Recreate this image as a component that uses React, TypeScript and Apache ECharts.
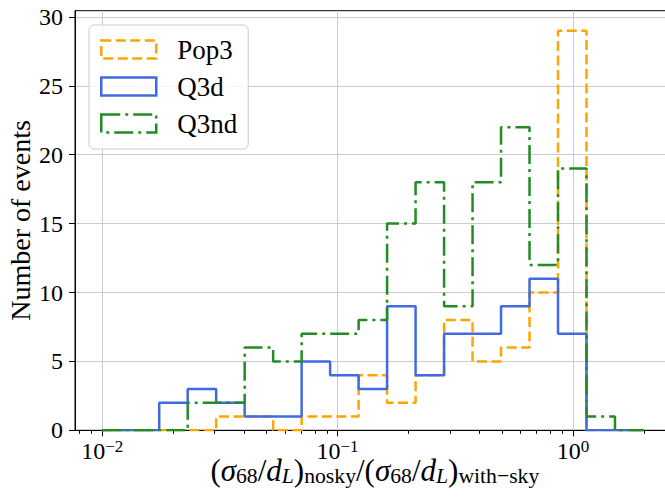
import React, { useEffect, useRef } from 'react';
import * as echarts from 'echarts';

// Logarithmic bin edges (shared by the three histograms)
const BIN_EDGES = [
  0.01, 0.013214, 0.017462, 0.023074, 0.030491, 0.040291, 0.053241, 0.070353,
  0.092966, 0.12285, 0.16233, 0.21451, 0.28346, 0.37457, 0.49496, 0.65405,
  0.86428, 1.1421, 1.5092, 1.9943,
];
// Counts per bin
const POP3 = [0, 0, 0, 0, 1, 1, 0, 1, 1, 4, 2, 4, 8, 5, 6, 10, 29, 0, 0];
const Q3D = [0, 0, 2, 3, 2, 1, 1, 5, 4, 3, 9, 4, 7, 7, 9, 11, 7, 0, 0];
const Q3ND = [0, 0, 0, 2, 2, 6, 5, 7, 7, 8, 15, 18, 9, 18, 22, 12, 19, 1, 0];

const SERIES_NAMES = ['Pop3', 'Q3d', 'Q3nd'];
const Y_TICKS = [0, 5, 10, 15, 20, 25, 30];
const X_MAJOR_TICKS = [0.01, 0.1, 1];
const X_MINOR_TICKS = [
  0.008, 0.009,
  0.02, 0.03, 0.04, 0.05, 0.06, 0.07, 0.08, 0.09,
  0.2, 0.3, 0.4, 0.5, 0.6, 0.7, 0.8, 0.9,
  2,
];
const X_MIN = 0.007661;
const X_MAX = 2.603;
const Y_MAX = 30.45;

const FONT = "'Liberation Serif', 'Times New Roman', serif";
const COLORS = ['#FFA500', '#4169E1', '#228B22'];
const DASHES: (number[] | 'solid')[] = [[10, 4.5], 'solid', [19, 5, 3, 5]];

const lg = (v: number) => Math.log10(v);

function stepPoints(counts: number[]) {
  const pts: number[][] = [[lg(BIN_EDGES[0]), 0]];
  counts.forEach((c, i) => pts.push([lg(BIN_EDGES[i]), c]));
  const last = counts[counts.length - 1];
  pts.push([lg(BIN_EDGES[counts.length]), last]);
  pts.push([lg(BIN_EDGES[counts.length]), 0]);
  return pts;
}

export default function App() {
  const ref = useRef<HTMLDivElement>(null);
  useEffect(() => {
    const chart = echarts.init(ref.current!, null, { renderer: 'svg' });
    const allCounts = [POP3, Q3D, Q3ND];
    const option: any = {
      animation: false,
      backgroundColor: '#ffffff',
      textStyle: { fontFamily: FONT },
      grid: {
        left: 75,
        top: 10.7,
        width: 595.7,
        height: 419.6,
        show: true,
        borderColor: '#000',
        borderWidth: 1,
        backgroundColor: 'transparent',
        containLabel: false,
        outerBoundsMode: 'none',
      },
      legend: {
        orient: 'vertical',
        left: 89,
        top: 25,
        itemWidth: 55,
        itemHeight: 18,
        itemGap: 10,
        padding: [11, 11, 12, 11],
        backgroundColor: 'rgba(255,255,255,0.8)',
        borderColor: '#cccccc',
        borderWidth: 1,
        borderRadius: 5,
        textStyle: { fontFamily: FONT, fontSize: 27, color: '#000', padding: [0, 0, 0, 16] },
        data: SERIES_NAMES.map((n, i) => ({
          name: n,
          icon: 'rect',
          itemStyle: {
            color: 'transparent',
            borderColor: COLORS[i],
            borderWidth: 2.5,
            borderType: DASHES[i],
          },
        })),
      },
      xAxis: [
        {
          type: 'value',
          min: lg(X_MIN),
          max: lg(X_MAX),
          axisLine: { show: true, onZero: false, lineStyle: { color: '#000', width: 1 } },
          axisTick: {
            show: true,
            customValues: X_MAJOR_TICKS.map(lg),
            length: 6,
            lineStyle: { color: '#000', width: 1 },
          },
          axisLabel: {
            customValues: X_MAJOR_TICKS.map(lg),
            margin: 7.5,
            formatter: (v: number) => {
              const e = Math.round(v);
              return `{b|10}{s|${e < 0 ? '\u2212' + -e : e}}`;
            },
            rich: {
              b: { fontFamily: FONT, fontSize: 24, color: '#000', lineHeight: 26 },
              s: { fontFamily: FONT, fontSize: 17, color: '#000', verticalAlign: 'top', lineHeight: 8 },
            },
          },
          splitLine: { show: true, lineStyle: { color: '#cbcbcb', width: 1 } },
          name:
            '{n|(}{i|σ}{s|68}{n|/}{i|d}{si|L}{n|)}{s|nosky}{n|/(}{i|σ}{s|68}{n|/}{i|d}{si|L}{n|)}{s|with\u2212sky}',
          nameLocation: 'middle',
          nameGap: 23,
          nameMoveOverlap: false,
          nameTextStyle: {
            padding: [0, 0, 0, 4],
            rich: {
              n: { fontFamily: FONT, fontSize: 31, color: '#000', lineHeight: 34 },
              i: { fontFamily: FONT, fontSize: 31, fontStyle: 'italic', color: '#000', lineHeight: 34 },
              s: { fontFamily: FONT, fontSize: 21.7, color: '#000', verticalAlign: 'bottom', lineHeight: 18 },
              si: { fontFamily: FONT, fontSize: 21.7, fontStyle: 'italic', color: '#000', verticalAlign: 'bottom', lineHeight: 18 },
            },
          },
        },
        {
          type: 'value',
          position: 'bottom',
          min: lg(X_MIN),
          max: lg(X_MAX),
          axisLine: { show: false },
          axisLabel: { show: false },
          splitLine: { show: false },
          axisTick: {
            show: true,
            customValues: X_MINOR_TICKS.map(lg),
            length: 3.5,
            lineStyle: { color: '#000', width: 1 },
          },
        },
      ],
      yAxis: {
        type: 'value',
        min: 0,
        max: Y_MAX,
        axisLine: { show: true, onZero: false, lineStyle: { color: '#000', width: 1 } },
        axisTick: { show: true, customValues: Y_TICKS, length: 6, lineStyle: { color: '#000', width: 1 } },
        axisLabel: { customValues: Y_TICKS, fontFamily: FONT, fontSize: 24, color: '#000', margin: 12 },
        splitLine: { show: true, lineStyle: { color: '#cbcbcb', width: 1 } },
        name: 'Number of events',
        nameLocation: 'middle',
        nameGap: 41,
        nameMoveOverlap: false,
        nameTextStyle: { fontFamily: FONT, fontSize: 28, color: '#000' },
      },
      series: SERIES_NAMES.map((n, i) => ({
        type: 'line',
        name: n,
        xAxisIndex: 0,
        data: stepPoints(allCounts[i]),
        step: 'end',
        symbol: 'none',
        lineStyle: { color: COLORS[i], width: 2.5, type: DASHES[i] },
        itemStyle: { color: COLORS[i] },
        z: 3 + i,
      })),
    };
    chart.setOption(option);
    return () => chart.dispose();
  }, []);
  return (
    <div
      ref={ref}
      style={{ position: 'absolute', left: 0, top: 0, width: 665, height: 498 }}
    />
  );
}
